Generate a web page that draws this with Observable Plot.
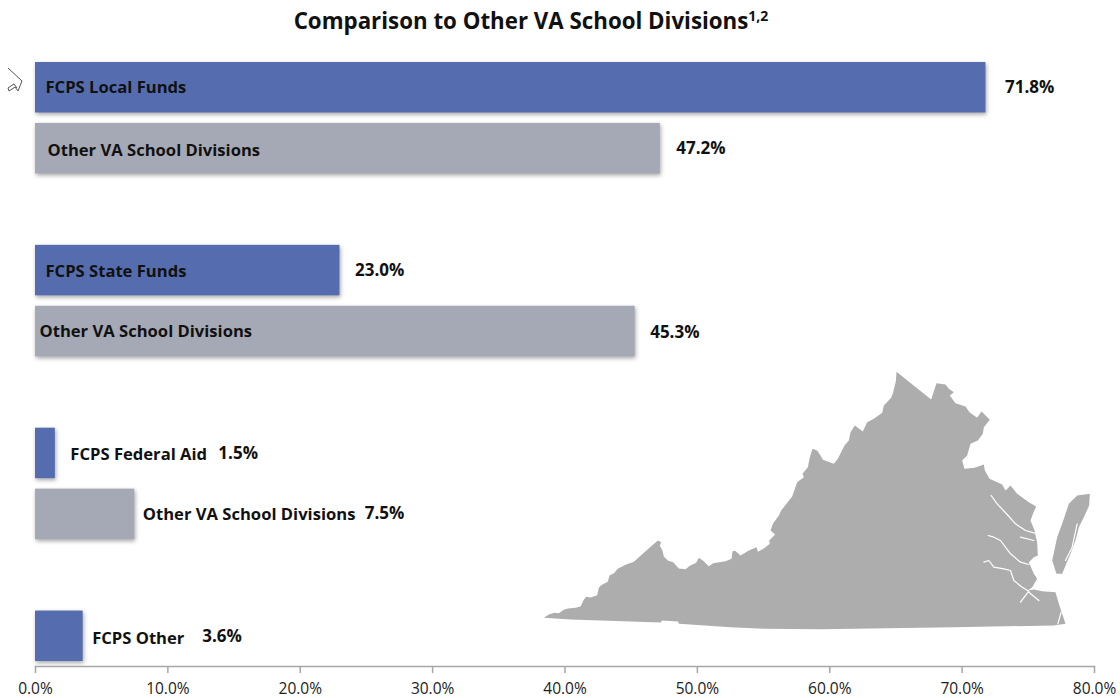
<!DOCTYPE html>
<html>
<head>
<meta charset="utf-8">
<script src="https://cdn.jsdelivr.net/npm/d3@7"></script>
<script src="https://cdn.jsdelivr.net/npm/@observablehq/plot@0.6"></script>
<style>
  html, body { margin: 0; padding: 0; background: #fff; }
  #page { position: relative; width: 1120px; height: 698px; overflow: hidden; font-family: "Open Sans", sans-serif; }
  #title { height: 40px; line-height: 42px; width: 1062px; text-align: center; font-weight: 700; font-size: 22.3px; color: #111; }
  #title sup { font-size: 14px; line-height: 0; }
  #map { position: absolute; left: 530px; top: 360px; }
  #cursor { position: absolute; left: 6px; top: 66px; }
  #chart g[aria-label="bar"] { filter: drop-shadow(1px 2px 2px rgba(0,0,0,.35)); }
</style>
</head>
<body>
<div id="page">
  <div id="title">Comparison to Other VA School Divisions<sup>1,2</sup></div>
  <div id="chart"></div>
  <div id="map"></div>
  <svg id="cursor" width="18" height="28" viewBox="0 0 18 28">
    <path d="M2 2 L16 15 L14 20 L12 25 L9 21 L3 25 L2 22 L8 18 M8 18 L11 22" fill="none" stroke="#555" stroke-width="1"/>
  </svg>
</div>
<script>
// Chart data
const slots = ["local", "localOther", "gapA", "state", "stateOther", "gapB", "federal", "federalOther", "gapC", "other"];
const keys = ["local", "localOther", "state", "stateOther", "federal", "federalOther", "other"];
const names = ["FCPS Local Funds", "Other VA School Divisions", "FCPS State Funds", "Other VA School Divisions", "FCPS Federal Aid", "Other VA School Divisions", "FCPS Other"];
const groups = ["FCPS", "Other", "FCPS", "Other", "FCPS", "Other", "FCPS"];
const values = [71.8, 47.2, 23.0, 45.3, 1.5, 7.5, 3.6];
const xTicks = [0, 10, 20, 30, 40, 50, 60, 70, 80];

const rows = keys.map((key, i) => ({key, name: names[i], group: groups[i], value: values[i]}));

// Label placement (offsets only, separate from the data)
const nameAnchorAtZero = [true, true, true, true, false, false, false];
const nameDx = [10, 12, 10, 4, 15, 8, 9];
const nameDy = [0, 2, 1, 0, 1, 0, 2];
const valueDx = [19, 16, 15, 15, 163, 230, 119];
const valueDy = [0, 0, 0, 1, 0, -1, 0];

const nameMarks = rows.map((r, i) => Plot.text([r], {
  x: d => nameAnchorAtZero[i] ? 0 : d.value, y: "key", text: "name",
  textAnchor: "start", dx: nameDx[i], dy: nameDy[i],
  fontWeight: 700, fontSize: 16.6, fill: "#111"
}));
const valueMarks = rows.map((r, i) => Plot.text([r], {
  x: "value", y: "key", text: d => d.value.toFixed(1) + "%",
  textAnchor: "start", dx: valueDx[i], dy: valueDy[i],
  fontWeight: 700, fontSize: 17, fill: "#111"
}));

const chart = Plot.plot({
  width: 1120,
  height: 658,
  marginTop: 17,
  marginBottom: 32,
  marginLeft: 35,
  marginRight: 26,
  style: {fontFamily: "'Open Sans', sans-serif", background: "transparent", overflow: "visible"},
  x: {domain: [0, 80]},
  y: {domain: slots, paddingInner: 0.172, paddingOuter: 0.082, round: false, axis: null},
  color: {domain: ["FCPS", "Other"], range: ["#556DAE", "#A5A9B5"]},
  marks: [
    Plot.barX(rows, {x: "value", y: "key", fill: "group"}),
    Plot.frame({anchor: "bottom", stroke: "#a6a6a6", strokeWidth: 1.5}),
    Plot.axisX({
      ticks: xTicks, tickSize: 7, tickPadding: 9, stroke: "#a6a6a6", strokeWidth: 1.5,
      tickFormat: d => d.toFixed(1) + "%", fontSize: 15.5, fill: "#222", label: null
    }),
    ...nameMarks,
    ...valueMarks
  ]
});
document.getElementById("chart").append(chart);

// Virginia outline, in map units (y pointing down)
const eastShift = 870;
const mapWest = [[40,772],[55,762],[72,757],[85,758],[100,748],[112,744],[135,742],[150,738],[160,718],[167,709],[180,711],[200,704],[205,682],[212,674],[232,664],[237,645],[250,638],[262,625],[285,613],[310,604],[340,577],[382,540],[392,545],[388,556],[396,570],[400,588],[412,600],[428,605],[445,624],[465,626],[478,616],[497,607],[505,592],[517,600],[535,617],[548,608],[585,602],[603,595],[606,572],[614,571],[630,585],[655,570],[678,560],[682,574],[700,564],[718,550],[716,540],[734,522],[720,510],[728,488],[745,465],[752,450],[785,408],[792,388],[800,365],[820,350],[816,340],[832,320],[838,290],[846,265],[860,270],[870,285]];
const mapEast = [[7,298],[40,310],[52,295],[72,255],[85,240],[90,215],[103,195],[127,213],[140,185],[160,175],[185,157],[190,135],[212,112],[218,95],[226,62],[228,34],[332,117],[348,68],[375,72],[385,85],[400,95],[388,105],[405,128],[435,138],[447,155],[470,172],[483,153],[508,178],[490,200],[487,220],[472,240],[450,250],[440,285],[425,300],[432,325],[462,322],[490,312],[493,330],[507,355],[545,372],[555,390],[570,375],[590,400],[625,425],[647,438],[638,458],[630,480],[643,512],[645,525],[650,545],[652,585],[640,590],[625,605],[640,640],[650,655],[635,680],[622,690],[640,687],[665,692],[705,695],[715,730],[735,790],[700,795],[400,800],[0,806]];
const mapSouth = [[700,805],[600,800],[445,790],[443,783],[395,780],[390,786],[120,777],[40,772]];
const mapShore = [[770,405],[808,400],[806,435],[790,470],[775,500],[765,540],[750,580],[725,640],[708,640],[695,600],[710,530],[725,490],[745,430],[770,405]];
const riverA = [[512,405],[530,430],[560,462],[585,490],[615,510],[643,518]];
const riverB = [[503,525],[520,530],[540,540],[570,580],[600,605],[625,612]];
const riverC = [[490,605],[505,600],[520,620],[550,625],[570,630],[580,660],[605,680],[625,692]];
const riverD = [[625,692],[600,725]];
const riverE = [[625,695],[655,720]];
const inletA = [[600,530],[640,540]];
const inletB = [[770,490],[755,560],[735,600]];
const inletC = [[712,790],[722,755]];
const shift = pts => pts.map(([x, y]) => [x + eastShift, y]);

const land = {type: "MultiPolygon", coordinates: [
  [[...mapWest, ...shift(mapEast), ...mapSouth]],
  [shift(mapShore)]
]};
const water = {type: "MultiLineString", coordinates: [riverA, riverB, riverC, riverD, riverE, inletA, inletB, inletC].map(shift)};
const mapBounds = {type: "LineString", coordinates: [[0, 0], [1770, 870]]};

const map = Plot.plot({
  width: 590,
  height: 290,
  margin: 0,
  style: {background: "transparent"},
  projection: {type: "identity", domain: mapBounds},
  marks: [
    Plot.geo(land, {fill: "#adadad", stroke: "none"}),
    Plot.geo(water, {fill: "none", stroke: "#fff", strokeWidth: 1.2})
  ]
});
document.getElementById("map").append(map);
</script>
</body>
</html>
